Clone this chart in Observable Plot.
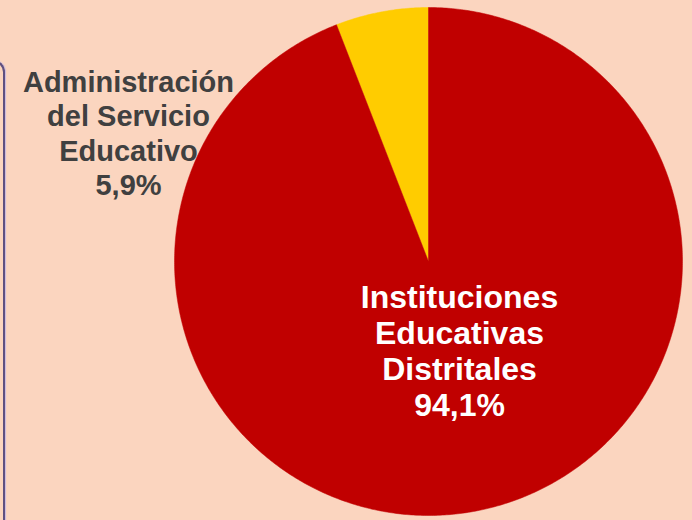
<!DOCTYPE html>
<html>
<head>
<meta charset="utf-8">
<script src="https://cdn.jsdelivr.net/npm/d3@7"></script>
<script src="https://cdn.jsdelivr.net/npm/@observablehq/plot@0.6"></script>
<style>
  html, body { margin: 0; padding: 0; background: #FBD5BF; }
  #wrap { position: relative; width: 692px; height: 520px; overflow: hidden; background: #FBD5BF; }
  #frame { position: absolute; left: -10px; top: 60px; width: 13px; height: 480px;
           border-top: 2px solid #5f5080; border-right: 2px solid #5f5080; border-top-right-radius: 12px;
           box-shadow: 1px 0 1px #c8b8e0; }
</style>
</head>
<body>
<div id="wrap"><div id="frame"></div></div>
<script>
const categories = ["Administración del Servicio Educativo", "Instituciones Educativas Distritales"];
const labels = ["Administración\ndel Servicio\nEducativo\n5,9%", "Instituciones\nEducativas\nDistritales\n94,1%"];
const values = [5.9, 94.1];
const colors = ["#FFCC00", "#C00000"];

const W = 692, H = 520, cx = 428, cy = 261, R = 254;

// Build wedge polygons (unit circle) from the values; start at top, yellow goes counter-clockwise
const total = d3.sum(values);
const pts = [];
let start = 0; // angle in radians measured counter-clockwise from top
values.forEach((v, i) => {
  const span = v / total * 2 * Math.PI;
  const n = Math.max(8, Math.ceil(span / (Math.PI / 360)));
  pts.push({cat: categories[i], u: 0, v: 0});
  for (let k = 0; k <= n; k++) {
    const a = start + span * k / n;
    pts.push({cat: categories[i], u: -Math.sin(a), v: Math.cos(a)});
  }
  pts.push({cat: categories[i], u: 0, v: 0});
  start += span;
});

const textData = [
  {label: labels[0], u: (128 - cx) / R, v: (cy - 132) / R, fill: "#404040", size: 29, lh: 1.19},
  {label: labels[1], u: (459 - cx) / R, v: (cy - 350) / R, fill: "#ffffff", size: 32, lh: 1.13}
];

const chart = Plot.plot({
  width: W, height: H,
  margin: 0,
  style: {background: "transparent", overflow: "visible"},
  x: {domain: [-cx / R, (W - cx) / R], axis: null},
  y: {domain: [-(H - cy) / R, cy / R], axis: null},
  color: {domain: categories, range: colors},
  marks: [
    Plot.line(pts, {x: "u", y: "v", z: "cat", fill: "cat", stroke: "cat", strokeWidth: 0.5, curve: "linear"}),
    Plot.text(textData.slice(0, 1), {x: "u", y: "v", text: "label", fill: d => d.fill, fontSize: 29,
      fontWeight: "bold", fontFamily: "Liberation Sans, Arial, sans-serif", lineHeight: 1.19, textAnchor: "middle"}),
    Plot.text(textData.slice(1), {x: "u", y: "v", text: "label", fill: d => d.fill, fontSize: 32,
      fontWeight: "bold", fontFamily: "Liberation Sans, Arial, sans-serif", lineHeight: 1.13, textAnchor: "middle"})
  ]
});
chart.style.position = "absolute";
chart.style.left = "0px";
chart.style.top = "0px";
document.getElementById("wrap").appendChild(chart);
</script>
</body>
</html>
